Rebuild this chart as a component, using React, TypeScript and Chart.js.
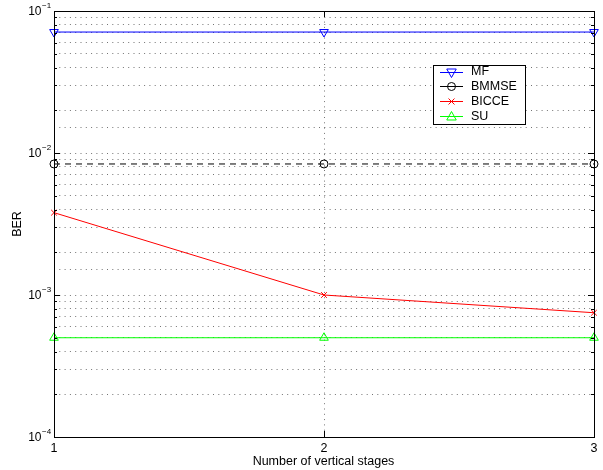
import React, { useEffect, useRef } from "react";
import { Chart, registerables } from "chart.js";

Chart.register(...registerables);

const stages = [1, 2, 3];
const mfBer = [0.0711, 0.0711, 0.0711];
const bmmseBer = [0.00837, 0.00837, 0.00837];
const bicceBer = [0.0038, 0.001, 0.00075];
const suBer = [0.0005, 0.0005, 0.0005];
const yExponents = [-1, -2, -3, -4];
const xTickLabels = ["1", "2", "3"];

const FONT = "Liberation Sans, Arial, Helvetica, sans-serif";

const legendItems = [
  { label: "MF", color: "#0000ff", style: "triangle", rot: 180 },
  { label: "BMMSE", color: "#000000", style: "circle", rot: 0 },
  { label: "BICCE", color: "#ff0000", style: "crossRot", rot: 0 },
  { label: "SU", color: "#00ff00", style: "triangle", rot: 0 },
];

function drawMarker(ctx: CanvasRenderingContext2D, style: string, rot: number, x: number, y: number, r: number, color: string) {
  ctx.save();
  ctx.strokeStyle = color;
  ctx.lineWidth = 1;
  ctx.setLineDash([]);
  ctx.translate(x, y);
  ctx.rotate((rot * Math.PI) / 180);
  ctx.beginPath();
  if (style === "triangle") {
    ctx.moveTo(0, -r);
    ctx.lineTo(r * 0.95, r * 0.7);
    ctx.lineTo(-r * 0.95, r * 0.7);
    ctx.closePath();
  } else if (style === "circle") {
    ctx.arc(0, 0, r * 0.8, 0, Math.PI * 2);
  } else {
    const s = r * 0.6;
    ctx.moveTo(-s, -s);
    ctx.lineTo(s, s);
    ctx.moveTo(s, -s);
    ctx.lineTo(-s, s);
  }
  ctx.stroke();
  ctx.restore();
}

const overlayPlugin = {
  id: "overlay",
  afterDraw(chart: any) {
    const ctx: CanvasRenderingContext2D = chart.ctx;
    const { left, right, top, bottom } = chart.chartArea;
    const y = chart.scales.y;
    const x = chart.scales.x;
    ctx.save();
    ctx.strokeStyle = "#000";
    ctx.lineWidth = 1;
    ctx.setLineDash([]);
    ctx.strokeRect(left + 0.5, top + 0.5, right - left, bottom - top);
    for (let e = -4; e <= -1; e++) {
      for (let m = 1; m <= 9; m++) {
        const v = m * Math.pow(10, e);
        if (v > 0.1 + 1e-12) continue;
        const py = Math.round(y.getPixelForValue(v)) + 0.5;
        const len = m === 1 ? 6 : 3;
        ctx.beginPath();
        ctx.moveTo(left, py);
        ctx.lineTo(left + len, py);
        ctx.moveTo(right, py);
        ctx.lineTo(right - len, py);
        ctx.stroke();
      }
    }
    for (const s of stages) {
      const px = Math.round(x.getPixelForValue(s)) + 0.5;
      ctx.beginPath();
      ctx.moveTo(px, bottom);
      ctx.lineTo(px, bottom - 6);
      ctx.moveTo(px, top);
      ctx.lineTo(px, top + 6);
      ctx.stroke();
    }
    ctx.fillStyle = "#000";
    for (const e of yExponents) {
      const py = y.getPixelForValue(Math.pow(10, e));
      ctx.font = `12px ${FONT}`;
      ctx.textAlign = "right";
      ctx.textBaseline = "middle";
      ctx.fillText("10", 41.5, py + 1);
      ctx.font = `8px ${FONT}`;
      ctx.textAlign = "left";
      ctx.fillText("\u2212" + String(-e), 42, py - 5);
    }
    ctx.font = `12.5px ${FONT}`;
    ctx.textAlign = "center";
    ctx.textBaseline = "middle";
    ctx.fillText("Number of vertical stages", (left + right) / 2 - 0.5, 462);
    ctx.save();
    ctx.translate(18, (top + bottom) / 2);
    ctx.rotate(-Math.PI / 2);
    ctx.fillText("BER", 0, 0);
    ctx.restore();
    const lx = 433, ly = 65, lw = 92, lh = 59;
    ctx.fillStyle = "#fff";
    ctx.fillRect(lx, ly, lw, lh);
    ctx.strokeStyle = "#000";
    ctx.strokeRect(lx + 0.5, ly + 0.5, lw, lh);
    legendItems.forEach((it, i) => {
      const cy = 71.5 + i * 14.8;
      ctx.strokeStyle = it.color;
      ctx.beginPath();
      ctx.moveTo(440, Math.round(cy) + 0.5);
      ctx.lineTo(463, Math.round(cy) + 0.5);
      ctx.stroke();
      drawMarker(ctx, it.style, it.rot, 451.5, Math.round(cy) + 0.5, 5, it.color);
      ctx.fillStyle = "#000";
      ctx.font = `12.5px ${FONT}`;
      ctx.textAlign = "left";
      ctx.textBaseline = "middle";
      ctx.fillText(it.label, 471, cy + 0.5);
    });
    ctx.restore();
  },
};

export default function App() {
  const ref = useRef<HTMLCanvasElement | null>(null);
  useEffect(() => {
    if (!ref.current) return;
    const mk = (label: string, data: number[], color: string, style: string, rot: number, radius: number, dash: number[] = []) => ({
      label,
      data: stages.map((s, i) => ({ x: s, y: data[i] })),
      borderColor: color,
      backgroundColor: "rgba(0,0,0,0)",
      borderWidth: 1,
      borderDash: dash,
      pointStyle: style,
      rotation: rot,
      pointRadius: radius,
      pointBorderColor: color,
      pointBackgroundColor: "rgba(0,0,0,0)",
      pointBorderWidth: 1,
      clip: false as any,
      tension: 0,
    });
    const chart = new Chart(ref.current, {
      type: "line",
      data: {
        datasets: [
          mk("MF", mfBer, "#0000ff", "triangle", 180, 5),
          mk("BMMSE", bmmseBer, "#000000", "circle", 0, 4, [6, 5]),
          mk("BICCE", bicceBer, "#ff0000", "crossRot", 0, 4),
          mk("SU", suBer, "#00ff00", "triangle", 0, 5),
        ] as any,
      },
      plugins: [overlayPlugin],
      options: {
        animation: false,
        responsive: false,
        maintainAspectRatio: false,
        layout: { padding: { top: 11, right: 9, left: 0, bottom: 0 } },
        plugins: { legend: { display: false }, tooltip: { enabled: false } },
        scales: {
          x: {
            type: "linear",
            min: 1,
            max: 3,
            afterFit: (s: any) => { s.height = 33; },
            afterBuildTicks: (s: any) => { s.ticks = stages.map((v) => ({ value: v })); },
            ticks: {
              color: "#000",
              font: { family: FONT, size: 12.5 },
              padding: 4,
              maxRotation: 0,
              callback: (v: any) => xTickLabels[stages.indexOf(Number(v))] ?? "",
            },
            grid: { color: "rgba(0,0,0,0.55)", lineWidth: 1, drawTicks: false },
            border: { display: false, dash: [1, 4.3] } as any,
          } as any,
          y: {
            type: "logarithmic",
            min: 1e-4,
            max: 1e-1,
            afterFit: (s: any) => { s.width = 54; },
            ticks: { display: false },
            grid: { color: "rgba(0,0,0,0.55)", lineWidth: 1, drawTicks: false },
            border: { display: false, dash: [1, 4.3] } as any,
          } as any,
        },
      } as any,
    });
    return () => chart.destroy();
  }, []);
  return (
    <div style={{ position: "fixed", left: 0, top: 0, width: 603, height: 470, background: "#fff" }}>
      <canvas ref={ref} width={603} height={470} style={{ width: 603, height: 470 }} />
    </div>
  );
}
